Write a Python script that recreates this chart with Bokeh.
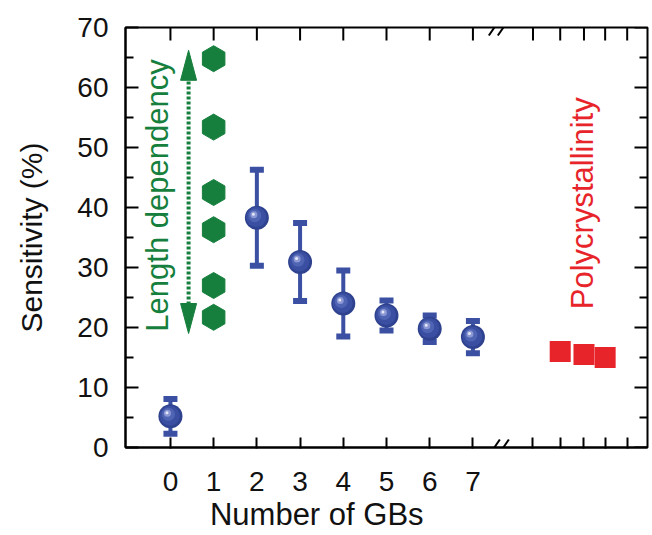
import numpy as np
from bokeh.plotting import figure
from bokeh.models import LinearAxis, FixedTicker, Range1d, Arrow, Label
from bokeh.embed import file_html
from bokeh.resources import INLINE

# ---------------- data ----------------
gb_count = [0, 2, 3, 4, 5, 6, 7]
gb_sensitivity = [5.2, 38.3, 30.9, 24.0, 22.0, 19.8, 18.4]
gb_error = [2.9, 8.0, 6.5, 5.5, 2.5, 2.2, 2.7]

length_x = [1, 1, 1, 1, 1, 1]
length_sensitivity = [64.8, 53.4, 42.5, 36.3, 27.0, 21.7]

poly_x = [9.02, 9.57, 10.06]
poly_sensitivity = [16.0, 15.5, 15.0]

x_tick_values = [0, 1, 2, 3, 4, 5, 6, 7]
x_tick_labels = ["0", "1", "2", "3", "4", "5", "6", "7"]
break_tick_values = [8.39, 9.02, 9.57, 10.06, 10.57]
y_tick_values = [0, 10, 20, 30, 40, 50, 60, 70]
y_minor_values = [5, 15, 25, 35, 45, 55, 65]

arrow_x = 0.42
arrow_span = [19.0, 66.2]
break_x = 7.6

# ---------------- style ----------------
FONT = "Liberation Sans"
BLUE = "#3b50a2"
GREEN = "#167f3d"
RED = "#e8242b"

X0, X1 = -1.04, 11.04
Y0, Y1 = 0, 70
FRAME_W, FRAME_H = 522, 420
px_x = (X1 - X0) / FRAME_W
px_y = (Y1 - Y0) / FRAME_H

p = figure(width=652, height=535, x_range=Range1d(X0, X1), y_range=Range1d(Y0, Y1),
           output_backend="svg", toolbar_location=None,
           x_axis_location=None, y_axis_location=None,
           min_border_left=125, min_border_right=5, min_border_top=27, min_border_bottom=88)
p.outline_line_color = "black"
p.outline_line_width = 2
p.grid.visible = False
p.background_fill_color = "white"
p.border_fill_color = "white"


def base_axis(ax):
    ax.axis_line_color = "black"
    ax.axis_line_width = 2
    ax.major_tick_line_color = "black"
    ax.major_tick_line_width = 2
    ax.minor_tick_line_color = "black"
    ax.minor_tick_line_width = 2
    ax.major_label_text_font = FONT
    ax.major_label_text_color = "#111111"
    ax.major_label_text_font_size = "28px"
    return ax


# left axis with ticks and labels
yl = base_axis(LinearAxis(ticker=FixedTicker(ticks=y_tick_values, minor_ticks=y_minor_values)))
yl.major_tick_in, yl.major_tick_out = 13, 0
yl.minor_tick_in, yl.minor_tick_out = 8, 0
yl.major_label_standoff = 17
p.add_layout(yl, "left")

# left axis carrying only the title
yl2 = LinearAxis(ticker=FixedTicker(ticks=[]), axis_line_color=None,
                 major_tick_line_color=None, minor_tick_line_color=None,
                 major_tick_out=0, minor_tick_out=0, major_label_standoff=0,
                 axis_label="Sensitivity (%)", axis_label_text_font=FONT,
                 axis_label_text_font_size="30px", axis_label_text_font_style="normal",
                 axis_label_text_color="#111111", axis_label_standoff=27)
p.add_layout(yl2, "left")

# bottom axis with ticks and labels
xb = base_axis(LinearAxis(ticker=FixedTicker(ticks=x_tick_values + break_tick_values)))
xb.major_tick_in, xb.major_tick_out = 10, 1
xb.major_label_standoff = 23
overrides = {float(v): lab for v, lab in zip(x_tick_values, x_tick_labels)}
overrides.update({float(v): "" for v in break_tick_values})
xb.major_label_overrides = overrides
p.add_layout(xb, "below")

# bottom axis carrying only the title (padded so it sits under the 0-7 block)
xb2 = LinearAxis(ticker=FixedTicker(ticks=[]), axis_line_color=None,
                 major_tick_line_color=None, minor_tick_line_color=None,
                 major_tick_out=0, minor_tick_out=0, major_label_standoff=0,
                 axis_label="Number of GBs" + "\u2003" * 4 + "\u2002",
                 axis_label_text_font=FONT,
                 axis_label_text_font_size="31px", axis_label_text_font_style="normal",
                 axis_label_text_color="#111111", axis_label_standoff=3)
p.add_layout(xb2, "below")

# top and right inward ticks (the frame itself is the outline)
all_x_ticks = x_tick_values + break_tick_values
p.segment(x0=all_x_ticks, y0=[Y1] * len(all_x_ticks), x1=all_x_ticks,
          y1=[Y1 - 13 * px_y] * len(all_x_ticks), line_color="black", line_width=2)
p.segment(x0=[X1] * len(y_tick_values), y0=y_tick_values, x1=[X1 - 13 * px_x] * len(y_tick_values),
          y1=y_tick_values, line_color="black", line_width=2)
p.segment(x0=[X1] * len(y_minor_values), y0=y_minor_values, x1=[X1 - 8 * px_x] * len(y_minor_values),
          y1=y_minor_values, line_color="black", line_width=2)

# ---------------- marks ----------------
gb_x = np.array(gb_count, dtype=float)
gb_y = np.array(gb_sensitivity)
gb_e = np.array(gb_error)

p.segment(x0=gb_x, y0=gb_y - gb_e, x1=gb_x, y1=gb_y + gb_e, line_width=4, line_color=BLUE)
for yy in (gb_y - gb_e, gb_y + gb_e):
    p.rect(x=gb_x, y=yy, width=14, height=6, width_units="screen", height_units="screen",
           fill_color=BLUE, line_color=None)

# shaded spheres
for size, col, off in [(24, "#2f428f", 0.0), (20, "#3a4fa1", 0.6), (13, "#5064b4", 2.0),
                       (7, "#8b98d4", 3.0), (3, "#e4e7f6", 3.5)]:
    p.scatter(x=gb_x - off * px_x, y=gb_y + off * px_y, size=size, marker="circle",
              fill_color=col, line_color=None)

# length-dependency hexagons
p.scatter(x=length_x, y=length_sensitivity, marker="hex", size=26, angle=np.pi / 2,
          fill_color=GREEN, line_color=GREEN)

# polycrystalline squares
p.scatter(x=poly_x, y=poly_sensitivity, marker="square", size=21, fill_color=RED, line_color=None)

# dotted double arrow
head_len = 30 * px_y
head_half = 8 * px_x
a0, a1 = arrow_span
p.segment(x0=[arrow_x], y0=[a0 + head_len * 0.8], x1=[arrow_x], y1=[a1 - head_len * 0.8],
          line_width=4, line_color=GREEN, line_dash="3 2")
p.patches(xs=[[arrow_x, arrow_x - head_half, arrow_x + head_half],
              [arrow_x, arrow_x - head_half, arrow_x + head_half]],
          ys=[[a1, a1 - head_len, a1 - head_len], [a0, a0 + head_len, a0 + head_len]],
          fill_color=GREEN, line_color=GREEN)

# in-plot texts
p.add_layout(Label(x=-0.30, y=42.0, text="Length dependency", angle=np.pi / 2,
                   text_align="center", text_baseline="middle", text_font=FONT,
                   text_font_size="31px", text_color=GREEN))
p.add_layout(Label(x=9.54, y=40.7, text="Polycrystallinity", angle=np.pi / 2,
                   text_align="center", text_baseline="middle", text_font=FONT,
                   text_font_size="31px", text_color=RED))

# axis break marks
sdx, sdy, gap = 5.5 * px_x, 8 * px_y, 4.5 * px_x
for ybase in (Y0, Y1):
    for c in (-gap, gap):
        p.add_layout(Arrow(end=None, start=None, x_start=break_x + c - sdx, y_start=ybase - sdy,
                           x_end=break_x + c + sdx, y_end=ybase + sdy,
                           line_color="black", line_width=2))

open("out.html", "w").write(file_html(p, INLINE))
